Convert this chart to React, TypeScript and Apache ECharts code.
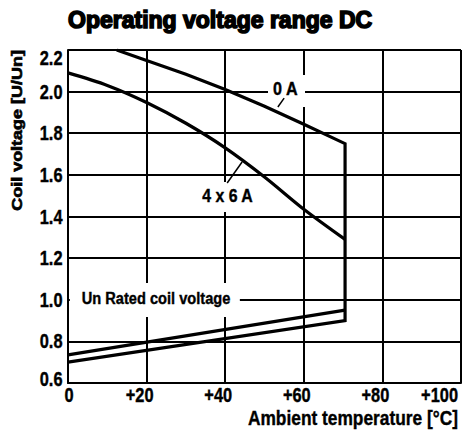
import React, { useEffect, useRef } from "react";
import * as echarts from "echarts";

// ---- data ----
const xTicks = [0, 20, 40, 60, 80, 100];
const xTickLabels = ["0", "+20", "+40", "+60", "+80", "+100"];
const yTicks = [0.6, 0.8, 1.0, 1.2, 1.4, 1.6, 1.8, 2.0, 2.2];
const yTickLabels = ["0.6", "0.8", "1.0", "1.2", "1.4", "1.6", "1.8", "2.0", "2.2"];

// Maximum coil voltage at 0 A load current
const maxVoltage0A: [number, number][] = [
  [12.4, 2.2], [20, 2.15], [30, 2.083], [40, 2.01], [50, 1.93], [60, 1.843], [70.5, 1.75],
];
// Maximum coil voltage at 4 x 6 A load current
const maxVoltage4x6A: [number, number][] = [
  [0, 2.09], [10, 2.03], [20, 1.948], [30, 1.848], [40, 1.73], [50, 1.59], [60, 1.435], [70.5, 1.29],
];
// Minimum (pick-up) voltage lines
const minVoltageLower: [number, number][] = [[0, 0.7], [70.5, 0.9]];
const minVoltageUpper: [number, number][] = [[0, 0.735], [70.5, 0.95]];

const FONT = "'Liberation Sans', Arial, sans-serif";

export default function App() {
  const ref = useRef<HTMLDivElement>(null);
  useEffect(() => {
    document.body.style.margin = "0";
    const chart = echarts.init(ref.current!, null, { renderer: "svg" });
    const lineStyle = { color: "#000", width: 3.2, join: "miter" as const, cap: "butt" as const };
    const gridLine = { color: "#000", width: 2 };
    chart.setOption({
      animation: false,
      backgroundColor: "#fff",
      grid: { left: 68, right: 1, top: 50, bottom: 52, containLabel: false },
      xAxis: {
        type: "value",
        min: 0,
        max: 100,
        interval: 20,
        axisLine: { show: true, lineStyle: gridLine },
        axisTick: { show: false },
        axisLabel: { show: false },
        splitLine: { show: true, showMinLine: true, showMaxLine: true, lineStyle: gridLine },
      },
      yAxis: {
        type: "value",
        min: 0.6,
        max: 2.2,
        interval: 0.2,
        axisLine: { show: true, lineStyle: gridLine },
        axisTick: { show: false },
        axisLabel: { show: false },
        splitLine: { show: true, showMinLine: true, showMaxLine: true, lineStyle: gridLine },
      },
      series: [
        {
          name: "0 A",
          type: "line",
          symbol: "none",
          z: 5,
          lineStyle,
          data: [...maxVoltage0A, ...minVoltageLower.slice().reverse()],
        },
        {
          name: "4 x 6 A",
          type: "line",
          symbol: "none",
          smooth: 0.3,
          z: 5,
          lineStyle,
          data: maxVoltage4x6A,
        },
        {
          name: "min",
          type: "line",
          symbol: "none",
          z: 5,
          lineStyle,
          data: minVoltageUpper,
        },
      ],
    });

    const px = (x: number, y: number) => chart.convertToPixel({ gridIndex: 0 }, [x, y]) as number[];
    const box = (cx: number, cy: number, w: number, h: number) => {
      const c = px(cx, cy);
      return { type: "rect", z: 3, shape: { x: c[0] - w / 2, y: c[1] - h / 2, width: w, height: h }, style: { fill: "#fff" } };
    };
    const txt = (text: string, x: number, y: number, size: number, sx: number, align = "center") => ({
      type: "text",
      z: 10,
      x,
      y,
      scaleX: sx,
      style: {
        text,
        fill: "#000",
        stroke: "#000",
        lineWidth: 0.4,
        fontFamily: FONT,
        fontWeight: "bold",
        fontSize: size,
        align,
        verticalAlign: "middle",
      },
    });
    const label = (text: string, x: number, y: number, size: number, sx: number) => {
      const c = px(x, y);
      return txt(text, c[0], c[1], size, sx);
    };
    const leader = (x1: number, y1: number, x2: number, y2: number) => {
      const a = px(x1, y1);
      const b = px(x2, y2);
      return { type: "line", z: 10, shape: { x1: a[0], y1: a[1], x2: b[0], y2: b[1] }, style: { stroke: "#000", lineWidth: 1.5 } };
    };

    const top = px(0, 2.2)[1];
    const bottom = px(0, 0.6)[1];
    const left = px(0, 0.6)[0];
    const right = px(100, 0.6)[0];

    const xLabels = xTicks.map((t, i) => {
      const s = xTickLabels[i];
      const gx = px(t, 0.6)[0];
      if (i === xTicks.length - 1) return txt(s, right - 3, bottom + 12, 20, 0.82, "right");
      const cx = s.startsWith("+") ? gx - 7 : gx + 1;
      return txt(s, cx, bottom + 12, 20, 0.82, "center");
    });
    const yLabels = yTicks.map((t, i) => {
      const gy = px(0, t)[1];
      const cy = Math.min(Math.max(gy, top + 8), bottom - 4.5);
      return txt(yTickLabels[i], left - 5.5, cy, 20, 0.82, "right");
    });

    chart.setOption({
      graphic: [
        box(55.6, 2.003, 37, 32),
        box(40.6, 1.494, 51, 30),
        box(22.1, 0.999, 170, 34),
        label("0 A", 55.3, 2.013, 19, 0.85),
        label("4 x 6 A", 40.6, 1.496, 18, 0.88),
        label("Un Rated coil voltage", 22.4, 1.008, 17, 0.86),
        leader(55.0, 1.969, 53.4, 1.926),
        leader(40.5, 1.561, 44.3, 1.662),
        ...xLabels,
        ...yLabels,
        {
          type: "text",
          z: 10,
          x: 68,
          y: 20,
          style: {
            text: "Operating voltage range DC",
            fill: "#000",
            stroke: "#000",
            lineWidth: 1.6,
            fontFamily: FONT,
            fontWeight: "bold",
            fontSize: 23,
            align: "left",
            verticalAlign: "middle",
          },
        },
        {
          type: "text",
          z: 10,
          x: 16.5,
          y: 50,
          rotation: Math.PI / 2,
          scaleY: 0.8,
          style: {
            text: "Coil voltage [U/Un]",
            fill: "#000",
            stroke: "#000",
            lineWidth: 0.8,
            fontFamily: FONT,
            fontWeight: "bold",
            fontSize: 18,
            align: "right",
            verticalAlign: "middle",
          },
        },
        txt("Ambient temperature [°C]", 458, 417.5, 21, 0.825, "right"),
      ],
    });
    return () => chart.dispose();
  }, []);
  return <div ref={ref} style={{ width: 462, height: 435 }} />;
}
